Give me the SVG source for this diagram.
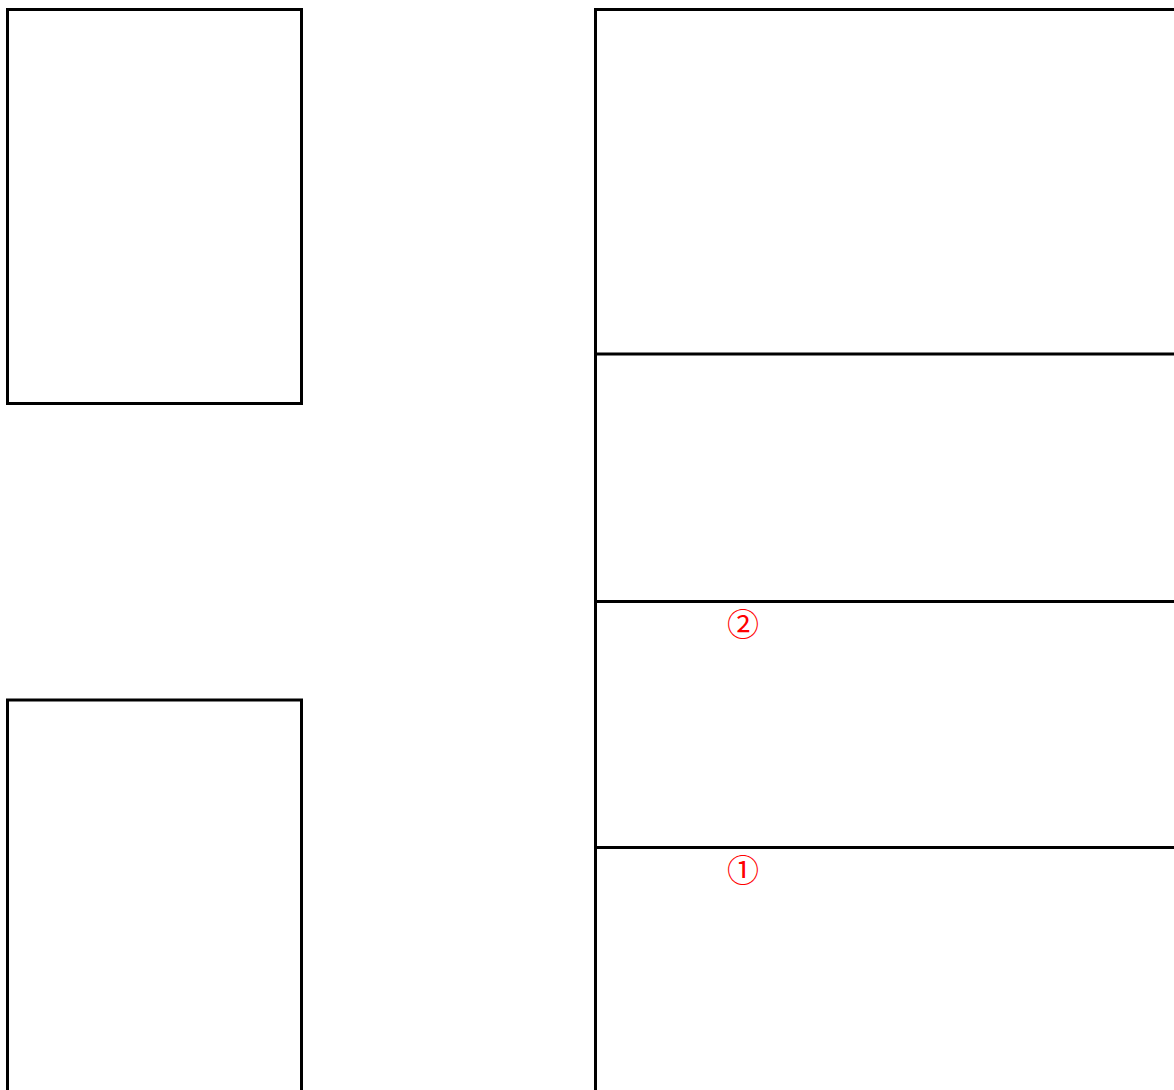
<svg xmlns="http://www.w3.org/2000/svg" width="1174" height="1090" viewBox="0 0 1174 1090">
<style>
.box{fill:#fff;stroke:#000;stroke-width:3}
.div{stroke:#000;stroke-width:3}
.num{fill:#ff0000;font-family:"Noto Sans CJK JP","Noto Sans CJK SC",sans-serif;font-size:32px;text-anchor:middle}
</style>
<rect width="1174" height="1090" fill="#fff"/>
<g id="left-top"><rect class="box" x="7.5" y="9.5" width="294" height="394"/></g>
<g id="left-bottom"><rect class="box" x="7.5" y="700" width="294" height="420"/></g>
<g id="right-panel">
<rect class="box" x="595.5" y="9.5" width="620" height="1120"/>
</g>
<g id="connectors">
<line class="div" x1="595.5" y1="354" x2="1180" y2="354"/>
<line class="div" x1="595.5" y1="601.5" x2="1180" y2="601.5"/>
<line class="div" x1="595.5" y1="847.5" x2="1180" y2="847.5"/>
</g>
<g id="label-2"><text class="num" x="743" y="636">②</text></g>
<g id="label-1"><text class="num" x="743" y="882">①</text></g>
</svg>
